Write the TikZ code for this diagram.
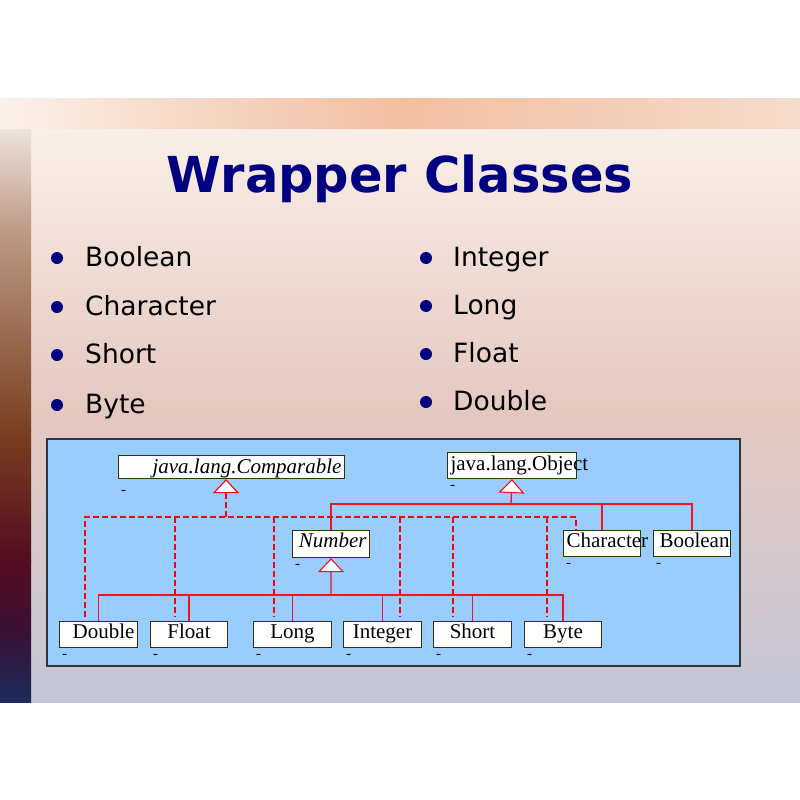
\documentclass[tikz,border=0pt]{standalone}
\usepackage{fontspec}
\setmainfont{Liberation Serif}
\newfontfamily\slidefont{DejaVu Sans}
\usepackage{xcolor}
\definecolor{slidenavy}{RGB}{0,0,128}
\definecolor{diagblue}{RGB}{153,204,255}
\definecolor{boxline}{RGB}{51,51,0}
\definecolor{panelline}{RGB}{50,52,60}
\definecolor{umlred}{RGB}{240,20,30}
\definecolor{dashred}{RGB}{250,0,10}
\definecolor{bandleft}{RGB}{250,240,234}
\definecolor{bandmid}{RGB}{242,190,160}
\definecolor{bandright}{RGB}{246,220,204}
\definecolor{maintop}{RGB}{249,239,232}
\definecolor{mainmid}{RGB}{228,200,192}
\definecolor{mainbottom}{RGB}{196,198,214}
\definecolor{stripa}{RGB}{238,226,220}
\definecolor{stripb}{RGB}{190,154,134}
\definecolor{stripc}{RGB}{122,64,32}
\definecolor{stripd}{RGB}{84,12,32}
\definecolor{stripe}{RGB}{58,16,52}
\definecolor{stripf}{RGB}{26,44,92}
\usepackage{tikz}
\usetikzlibrary{arrows.meta}
\newcommand{\widthcls}{72pt}
\newcommand{\sizecls}{\fontsize{21}{21}\selectfont}
\tikzset{
    common/.style={anchor=north west, draw=boxline, fill=white, line width=1.1pt, inner ysep=0pt, inner xsep=3pt,
        text height=17pt, text depth=9pt, font=\sizecls},
    cls/.style={common, text width=#1, align=center},
    cls/.default=\widthcls,
    rightcls/.style={cls=#1, align=right},
    rightcls/.default=\widthcls,
    leftcls/.style={cls=#1, align=left},
    leftcls/.default=\widthcls,
    marklbl/.style={anchor=north west, inner sep=0pt, xshift=3pt, yshift=-6pt, font=\fontsize{15}{15}\selectfont},
    withdash/.style={label={[marklbl,#1]south west:-}},
    withdash/.default={},
    gentip/.style={-{Triangle[width=26pt, length=14pt, fill=white, line width=1.1pt]}},
    inherit/.style={draw=umlred, line width=1.3pt},
    realize/.style={draw=dashred, line width=2.8pt, dash pattern=on 6pt off 3pt},
    item/.style={anchor=base west, inner sep=0pt, font=\slidefont\fontsize{26.5}{26.5}\selectfont},
    title/.style={anchor=base, inner sep=0pt, text=slidenavy, font=\slidefont\bfseries\fontsize{49.5}{49.5}\selectfont}
}
\begin{document}
\begin{tikzpicture}[x=1pt, y=-1pt]
    \useasboundingbox (0,0) rectangle (800,800);
    \fill[white] (0,0) rectangle (800,800);
    % slide background
    \shade[left color=bandleft, right color=bandright, middle color=bandmid] (0,98) rectangle (800,129);
    \shade[top color=maintop, bottom color=mainbottom, middle color=mainmid] (31,129) rectangle (800,702);
    \shade[top color=stripa, bottom color=stripb] (0,129) rectangle (31,231);
    \shade[top color=stripb, bottom color=stripc] (0,230) rectangle (31,431);
    \shade[top color=stripc, bottom color=stripd] (0,430) rectangle (31,561);
    \shade[top color=stripd, bottom color=stripf, middle color=stripe] (0,560) rectangle (31,702);

    \node[title] (title) at (400,192) {Wrapper Classes};

    \foreach \t/\yy [count=\i] in {Boolean/266, Character/315, Short/363, Byte/413} {
        \node[item] (left\i) at (85,\yy) {\t};
        \fill[slidenavy] ([xshift=-28pt, yshift=8pt]left\i.base west) circle (6pt);
    }
    \foreach \t/\yy [count=\i] in {Integer/266, Long/314, Float/362, Double/410} {
        \node[item] (right\i) at (453,\yy) {\t};
        \fill[slidenavy] ([xshift=-27pt, yshift=8pt]right\i.base west) circle (6pt);
    }

    % class diagram
    \filldraw[fill=diagblue, draw=panelline, line width=1.3pt] (47,439) rectangle (740,666);

    \node[rightcls=220pt, text height=18pt, text depth=5pt, withdash={yshift=-5pt}] (cmp) at (118,455) {\itshape java.lang.Comparable};
    \node[leftcls=123pt, text height=18pt, text depth=8pt, withdash] (obj) at (447,452) {java.lang.Object};
    \node[rightcls=71pt, text height=17pt, text depth=10pt, inner xsep=3pt, withdash] (num) at (292,530) {\itshape Number};
    \node[leftcls=71pt, withdash] (chr) at (563,530) {Character};
    \node[rightcls=75pt, inner xsep=1pt, withdash] (boo) at (653,530) {Boolean};

    \node[rightcls, withdash] (dbl) at (59,621) {Double};
    \node[cls=71pt, withdash] (flt) at (150,621) {Float};
    \node[cls, withdash] (lng) at (253,621) {Long};
    \node[cls, withdash] (int) at (343,621) {Integer};
    \node[cls, withdash] (sht) at (433,621) {Short};
    \node[cls=71pt, withdash] (byt) at (524,621) {Byte};

    % generalization
    \coordinate (objJoin) at (511,504);
    \coordinate (numJoin) at (331,595);
    \draw[inherit, gentip] (objJoin) -- (obj.south);
    \draw[inherit] (num.north) |- (objJoin) -| (boo.north);
    \draw[inherit] (chr.north) -- (chr.north |- objJoin);
    \draw[inherit, gentip] (numJoin) -- (num.south);
    \draw[inherit] (dbl.north) |- (numJoin) -| (byt.north);
    \foreach \n in {flt, lng, int, sht}
        \draw[inherit] (\n.north) -- (\n.north |- numJoin);

    % realization
    \coordinate (cmpJoin) at (226,517);
    \coordinate (dbl-r) at ([xshift=26, yshift=4]dbl.north west);
    \coordinate (chr-r) at ([xshift=13]chr.north west);
    \draw[realize, gentip] (cmpJoin) -- (cmpJoin |- cmp.south);
    \draw[realize] (dbl-r) |- (cmpJoin) -| (chr-r);
    \foreach \n/\dx in {flt/25, lng/21, int/57, sht/20, byt/23} {
        \coordinate (\n-r) at ([xshift=\dx, yshift=4]\n.north west);
        \draw[realize] (\n-r |- cmpJoin) -- (\n-r);
    }
\end{tikzpicture}
\end{document}
